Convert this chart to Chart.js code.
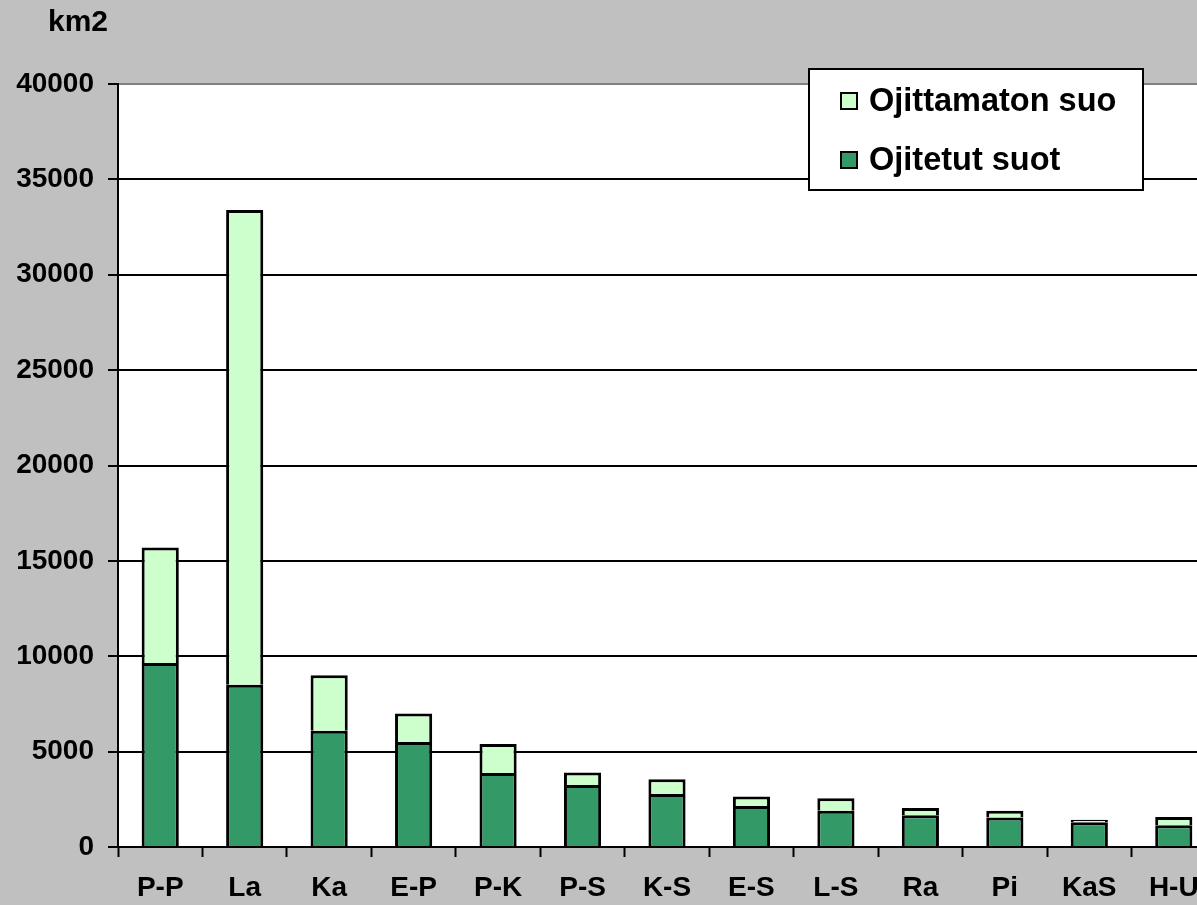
<!DOCTYPE html>
<html>
<head>
<meta charset="utf-8">
<script src="https://cdn.jsdelivr.net/npm/chart.js@4/dist/chart.umd.min.js"></script>
<style>
  html, body { margin: 0; padding: 0; overflow: hidden; background: #c0c0c0; }
  #wrap { width: 1220px; height: 905px; }
</style>
</head>
<body>
<div id="wrap"><canvas id="myChart" width="1220" height="905"></canvas></div>
<script>
const regions = ['P-P', 'La', 'Ka', 'E-P', 'P-K', 'P-S', 'K-S', 'E-S', 'L-S', 'Ra', 'Pi', 'KaS', 'H-U'];
const ojitetut = [9650, 8500, 6100, 5500, 3880, 3250, 2780, 2150, 1900, 1660, 1540, 1300, 1140];
const ojittamaton = [6050, 24900, 2900, 1500, 1520, 650, 770, 500, 650, 390, 360, 130, 430];
const yTicks = [0, 5000, 10000, 15000, 20000, 25000, 30000, 35000, 40000];

const FONT = 'Liberation Sans, Arial, sans-serif';

// white plot area on the grey background
const plotBg = {
    id: 'plotBg',
    beforeDraw(chart) {
        const ctx = chart.ctx;
        const a = chart.chartArea;
        ctx.save();
        ctx.fillStyle = '#c0c0c0';
        ctx.fillRect(0, 0, chart.width, chart.height);
        ctx.fillStyle = '#ffffff';
        ctx.fillRect(a.left, a.top, a.right - a.left, a.bottom - a.top);
        ctx.restore();
    }
};

// unit label and the boxed legend
const extras = {
    id: 'extras',
    afterDraw(chart) {
        const ctx = chart.ctx;
        ctx.save();
        ctx.fillStyle = '#000';
        ctx.font = 'bold 30px ' + FONT;
        ctx.textBaseline = 'middle';
        ctx.textAlign = 'left';
        ctx.fillText('km2', 48, 23);

        // legend box
        ctx.fillStyle = '#fff';
        ctx.fillRect(809, 69, 334, 121);
        ctx.strokeStyle = '#000';
        ctx.lineWidth = 2;
        ctx.strokeRect(809, 69, 334, 121);

        const items = [chart.data.datasets[1], chart.data.datasets[0]];
        items.forEach((ds, i) => {
            const cy = 101 + i * 59;
            ctx.fillStyle = ds.backgroundColor;
            ctx.fillRect(841, cy - 8, 16, 16);
            ctx.lineWidth = 2;
            ctx.strokeStyle = '#000';
            ctx.strokeRect(841, cy - 8, 16, 16);
            ctx.fillStyle = '#000';
            ctx.font = 'bold 32.5px ' + FONT;
            ctx.fillText(ds.label, 869, cy + 1);
        });
        ctx.restore();
    }
};

const barBorder = { top: 3, left: 3, right: 3, bottom: 0 };

const ctx = document.getElementById('myChart').getContext('2d');
new Chart(ctx, {
    type: 'bar',
    data: {
        labels: regions,
        datasets: [
            {
                label: 'Ojitetut suot',
                data: ojitetut,
                backgroundColor: '#339966',
                borderColor: '#000000',
                borderWidth: barBorder,
                borderSkipped: false
            },
            {
                label: 'Ojittamaton suo',
                data: ojittamaton,
                backgroundColor: '#ccffcc',
                borderColor: '#000000',
                borderWidth: barBorder,
                borderSkipped: false
            }
        ]
    },
    options: {
        responsive: false,
        animation: false,
        datasets: {
            bar: { barPercentage: 1, categoryPercentage: 0.44 }
        },
        layout: { padding: { left: 0, right: 4, top: 84, bottom: 0 } },
        plugins: {
            legend: { display: false },
            tooltip: { enabled: false }
        },
        scales: {
            x: {
                stacked: true,
                grid: {
                    drawOnChartArea: false,
                    tickLength: 10,
                    tickColor: '#000',
                    tickWidth: 2,
                    offset: true
                },
                border: { color: '#000', width: 2 },
                ticks: {
                    color: '#000',
                    padding: 14,
                    maxRotation: 0,
                    font: { family: FONT, size: 28, weight: 'bold' }
                },
                afterFit(scale) { scale.height = 58; }
            },
            y: {
                stacked: true,
                min: 0,
                max: 40000,
                afterBuildTicks(scale) { scale.ticks = yTicks.map(v => ({ value: v })); },
                grid: {
                    color: c => c.tick && c.tick.value === 40000 ? '#808080' : '#000',
                    lineWidth: 2,
                    tickLength: 10,
                    tickColor: '#000',
                    tickWidth: 2
                },
                border: { color: '#000', width: 2 },
                ticks: {
                    color: '#000',
                    padding: 14,
                    callback: v => String(v),
                    font: { family: FONT, size: 28, weight: 'bold' }
                },
                afterFit(scale) { scale.width = 118; }
            }
        }
    },
    plugins: [plotBg, extras]
});
</script>
</body>
</html>
